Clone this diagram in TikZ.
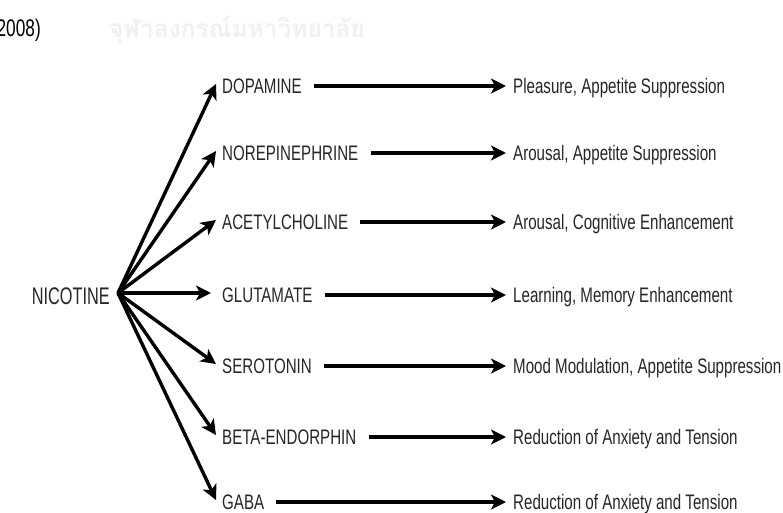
\documentclass[tikz,border=0pt]{standalone}
\usepackage{fontspec}
\setmainfont{Liberation Sans}[FakeStretch=0.72]
\newfontfamily\nicfont{Liberation Sans}[FakeStretch=0.68]
\newfontfamily\thaifont[Script=Thai]{Loma}
\usetikzlibrary{arrows.meta}
\begin{document}
\begin{tikzpicture}[x=1pt,y=-1pt]
\tikzset{
  lab/.style={anchor=west, inner sep=0pt, text=black!85, font=\fontsize{21}{21}\selectfont, text height=15pt, text depth=0pt},
  arr/.style={line width=3.4pt, -{Stealth[length=15pt,width=15pt,inset=4pt]}},
}
\useasboundingbox[fill=white] (0,0) rectangle (783,513);
% watermark and caption fragment
\node[inner sep=0pt, text=black!6, font=\thaifont\bfseries\fontsize{24.5}{24.5}\selectfont] (wm) at (237,30) {จุฬาลงกรณ์มหาวิทยาลัย};
\node[inner sep=0pt, anchor=east, font=\fontsize{24}{24}\selectfont] (yr) at (41,30) {2008)};
% source
\coordinate (o) at (118,293);
\node[lab, anchor=east, font=\nicfont\fontsize{24}{24}\selectfont, text height=17pt] (nic) at (110,296) {NICOTINE};
% transmitters
\node[lab] (da) at (222,86) {DOPAMINE};
\node[lab] (ne) at (222,153) {NOREPINEPHRINE};
\node[lab] (ac) at (222,222) {ACETYLCHOLINE};
\node[lab] (gl) at (222,295) {GLUTAMATE};
\node[lab] (se) at (222,366) {SEROTONIN};
\node[lab] (be) at (222,437) {BETA-ENDORPHIN};
\node[lab] (ga) at (222,502) {GABA};
% effects
\node[lab] (r1) at (513,86) {Pleasure, Appetite Suppression};
\node[lab] (r2) at (513,153) {Arousal, Appetite Suppression};
\node[lab] (r3) at (513,222) {Arousal, Cognitive Enhancement};
\node[lab] (r4) at (513,295) {Learning, Memory Enhancement};
\node[lab] (r5) at (513,366) {Mood Modulation, Appetite Suppression};
\node[lab] (r6) at (513,437) {Reduction of Anxiety and Tension};
\node[lab] (r7) at (513,502) {Reduction of Anxiety and Tension};
% fan arrows
\foreach \n in {da,ne,ac,se,be,ga}{
  \draw[arr] (o) -- ([xshift=-6pt,yshift=2pt]\n.west);
}
\draw[arr] (o) -- ([xshift=-11pt,yshift=2pt]gl.west);
% horizontal arrows
\foreach \a/\b in {da/r1,ne/r2,ac/r3,gl/r4,se/r5,be/r6,ga/r7}{
  \draw[arr] ([xshift=12pt]\a.east) -- ([xshift=-7pt]\b.west);
}
\end{tikzpicture}
\end{document}
